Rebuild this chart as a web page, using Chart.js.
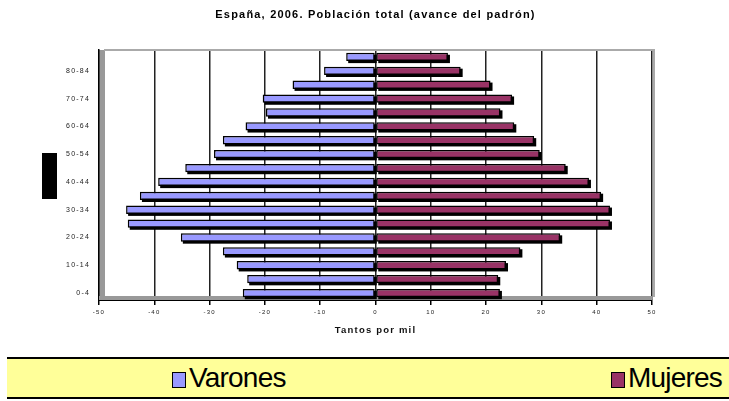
<!DOCTYPE html>
<html>
<head>
<meta charset="utf-8">
<script src="https://cdn.jsdelivr.net/npm/chart.js@4/dist/chart.umd.min.js"></script>
<style>
  body { margin: 0; background: #fff; }
  #wrap { position: relative; width: 729px; height: 401px; }
  #legend {
    position: absolute; left: 7px; top: 357px; width: 722px; height: 38px;
    background: #ffff99; border-top: 2px solid #000; border-bottom: 2px solid #000;
    font-family: 'Liberation Sans Narrow', 'Arial Narrow', 'Liberation Sans', sans-serif;
    font-size: 28px; color: #000; letter-spacing: -0.8px;
  }
  .item { position: absolute; top: 2px; line-height: 34px; }
  .box { display: inline-block; width: 12px; height: 14px; border: 1.5px solid #000; vertical-align: -1px; margin-right: 3px; }
</style>
</head>
<body>
<div id="wrap">
  <canvas id="pyramid" width="729" height="401"></canvas>
  <div id="legend">
    <span class="item" style="left:165px"><span class="box" style="background:#9999ff"></span>Varones</span>
    <span class="item" style="left:604px"><span class="box" style="background:#993366"></span>Mujeres</span>
  </div>
</div>
<script>
// grupos de edad, de abajo arriba
var ages = ["0-4","5-9","10-14","15-19","20-24","25-29","30-34","35-39","40-44",
            "45-49","50-54","55-59","60-64","65-69","70-74","75-79","80-84","85+"];
// tantos por mil (varones en negativo para el lado izquierdo)
var varones = [-24.0,-23.2,-25.1,-27.6,-35.2,-44.8,-45.1,-42.6,-39.3,
               -34.4,-29.2,-27.6,-23.5,-19.8,-20.4,-15.0,-9.3,-5.3];
var mujeres = [22.5,22.2,23.6,26.2,33.4,42.4,42.4,40.8,38.6,
               34.4,29.7,28.7,25.1,22.6,24.7,20.8,15.4,13.1];
var xTicks = [-50,-40,-30,-20,-10,0,10,20,30,40,50];

var decor = {
  id: 'decor',
  beforeDraw: function(chart) {
    chart.ctx.letterSpacing = '1.2px';
  },
  beforeDatasetsDraw: function(chart) {
    var ctx = chart.ctx, a = chart.chartArea;
    ctx.save();
    // pared gris y marco
    ctx.fillStyle = '#999';
    ctx.fillRect(a.left + 1, a.top, 5, a.bottom - a.top);
    ctx.fillRect(a.left, a.bottom - 4, a.right - a.left, 4);
    ctx.strokeStyle = '#aaa';
    ctx.lineWidth = 2;
    ctx.beginPath();
    ctx.moveTo(a.left + 5, a.top);
    ctx.lineTo(a.right + 2, a.top);
    ctx.lineTo(a.right + 2, a.bottom - 3);
    ctx.stroke();
    // sombra de las barras
    ctx.fillStyle = '#000';
    chart.data.datasets.forEach(function(ds, i) {
      chart.getDatasetMeta(i).data.forEach(function(bar) {
        var l = Math.min(bar.x, bar.base), w = Math.abs(bar.x - bar.base);
        ctx.fillRect(l + 2, bar.y - bar.height / 2 + 2, w, bar.height);
      });
    });
    ctx.restore();
  },
  afterDraw: function(chart) {
    var ctx = chart.ctx;
    ctx.letterSpacing = '0px';
    ctx.save();
    ctx.fillStyle = '#000';
    ctx.fillRect(42, 153, 15, 46);
    ctx.restore();
  }
};

var ctx = document.getElementById('pyramid');
var chart = new Chart(ctx, {
  type: 'bar',
  data: {
    labels: ages,
    datasets: [
      { label: 'Varones', data: varones, backgroundColor: '#9999ff', borderColor: '#000', borderWidth: 1.5, borderSkipped: false },
      { label: 'Mujeres', data: mujeres, backgroundColor: '#993366', borderColor: '#000', borderWidth: 1.5, borderSkipped: false }
    ]
  },
  options: {
    indexAxis: 'y',
    responsive: false,
    animation: false,
    devicePixelRatio: 1,
    layout: { padding: { left: 0, right: 77, top: 0, bottom: 61 } },
    datasets: { bar: { categoryPercentage: 1, barPercentage: 0.6 } },
    plugins: {
      legend: { display: false },
      tooltip: { enabled: false },
      title: {
        display: true,
        fullSize: false,
        text: 'España, 2006. Población total (avance del padrón)',
        color: '#000',
        font: { family: 'Liberation Sans, Arial, sans-serif', size: 11, weight: 'bold' },
        padding: { top: 8, bottom: 28.8 }
      }
    },
    scales: {
      x: {
        stacked: true,
        min: -50, max: 50,
        afterBuildTicks: function(s) { s.ticks = xTicks.map(function(v) { return { value: v }; }); },
        afterFit: function(s) { s.height = 40; },
        grid: { color: '#222', lineWidth: 1.5, tickLength: 5, tickColor: '#000' },
        border: { color: '#000', width: 2 },
        ticks: { padding: 4, color: '#222', font: { family: 'Liberation Sans, Arial, sans-serif', size: 6 } },
        title: {
          display: true, text: 'Tantos por mil', color: '#111',
          font: { family: 'Liberation Sans, Arial, sans-serif', size: 9.5, weight: 'bold' }
        }
      },
      y: {
        stacked: true,
        reverse: true,
        afterFit: function(s) { s.width = 99; },
        grid: { display: false, drawTicks: false },
        border: { color: '#000', width: 1.5 },
        ticks: {
          autoSkip: false, padding: 9, color: '#222',
          font: { family: 'Liberation Sans, Arial, sans-serif', size: 7 },
          callback: function(v, i) { return i % 2 === 0 ? ages[i] : ''; }
        }
      }
    }
  },
  plugins: [decor]
});
</script>
</body>
</html>
